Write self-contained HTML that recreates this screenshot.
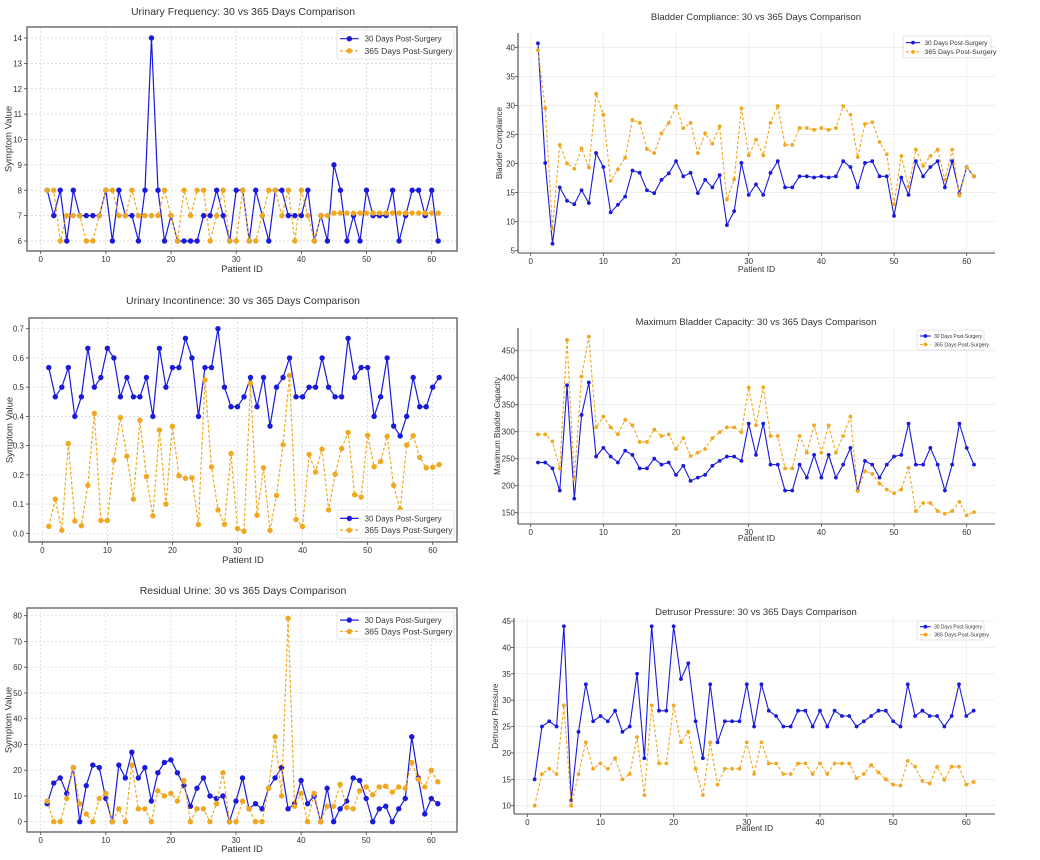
<!DOCTYPE html>
<html><head><meta charset="utf-8">
<style>
html,body{margin:0;padding:0;background:#fff;}
svg{display:block;font-family:"Liberation Sans","DejaVu Sans",sans-serif;}
</style></head>
<body>
<svg id="fig" width="1040" height="860" viewBox="0 0 1040 860" xmlns="http://www.w3.org/2000/svg"></svg>
<script>
const patientIds = Array.from({length:61},(_,i)=>i+1);
const xTicks = [0,10,20,30,40,50,60];

const freq30 = [8,7,8,6,8,7,7,7,7,8,6,8,7,7,6,8,14,8,6,7,6,6,6,6,7,7,8,7,6,8,8,6,8,7,6,8,8,7,7,7,8,6,7,6,9,8,6,7,6,8,7,7,7,8,6,7,8,8,7,8,6];
const freq365 = [8,8,6,7,7,7,6,6,7,8,8,7,7,8,7,7,7,7,8,7,6,8,7,8,8,6,7,8,6,6,8,6,6,7,8,8,7,8,6,8,7,6,7,7,7.1,7.1,7.1,7.1,7.1,7.1,7.1,7.1,7.1,7.1,7.1,7.1,7.1,7.1,7.1,7.1,7.1];
const freqTicks = [6,7,8,9,10,11,12,13,14];

const comp30 = [40.7,20.1,6.2,15.9,13.6,13.0,15.4,13.2,21.8,19.4,11.6,12.9,14.3,18.8,18.4,15.4,14.9,17.2,18.3,20.4,17.8,18.4,14.9,17.2,15.9,18.0,9.4,11.8,20.1,14.6,16.4,14.6,18.4,20.4,15.9,15.9,17.8,17.8,17.6,17.8,17.6,17.8,20.4,19.4,15.9,20.1,20.4,17.8,17.8,11.0,17.6,14.6,20.4,17.8,19.4,20.4,15.9,20.4,14.9,19.4,17.8];
const comp365 = [39.5,29.5,8.8,23.2,20.0,19.1,22.6,19.3,32.0,28.4,17.0,19.0,21.0,27.5,27.0,22.5,21.8,25.2,27.0,29.9,26.1,27.0,21.8,25.2,23.4,26.4,13.8,17.3,29.5,21.4,24.1,21.4,27.0,29.9,23.2,23.2,26.1,26.1,25.8,26.1,25.8,26.1,29.9,28.4,21.1,26.8,27.1,23.7,21.6,13.0,21.3,16.0,22.4,19.6,21.3,22.4,17.2,22.4,14.5,19.4,17.8];
const compTicks = [5,10,15,20,25,30,35,40];

const incont30 = [0.567,0.467,0.5,0.567,0.4,0.467,0.633,0.5,0.533,0.633,0.6,0.467,0.533,0.467,0.467,0.533,0.4,0.633,0.5,0.567,0.567,0.667,0.6,0.4,0.567,0.567,0.7,0.5,0.433,0.433,0.467,0.533,0.433,0.533,0.367,0.5,0.533,0.6,0.467,0.467,0.5,0.5,0.6,0.5,0.467,0.467,0.667,0.533,0.567,0.567,0.4,0.467,0.6,0.367,0.333,0.4,0.533,0.433,0.433,0.5,0.533];
const incont365 = [0.024,0.117,0.01,0.307,0.042,0.026,0.164,0.41,0.044,0.044,0.25,0.396,0.264,0.117,0.387,0.194,0.06,0.353,0.1,0.366,0.197,0.188,0.19,0.03,0.525,0.227,0.08,0.031,0.273,0.016,0.007,0.513,0.062,0.224,0.01,0.13,0.303,0.54,0.047,0.023,0.27,0.21,0.288,0.08,0.202,0.29,0.345,0.132,0.124,0.335,0.228,0.246,0.332,0.164,0.082,0.302,0.334,0.26,0.224,0.226,0.235];
const incontTicks = [0.0,0.1,0.2,0.3,0.4,0.5,0.6,0.7];

const cap30 = [243,243,232,191,386,176,331,391,254,270,254,243,265,257,232,232,250,239,243,220,237,209,215,220,237,246,254,254,246,315,257,315,239,239,191,191,239,215,257,215,257,215,239,270,191,246,239,215,239,254,257,315,239,239,270,239,191,239,315,270,239];
const cap365 = [295,295,282,232,470,212,402,476,308,328,308,295,322,312,281,281,304,292,295,268,288,255,261,268,288,299,308,308,299,382,312,382,292,292,232,232,292,261,312,261,312,261,292,328,190,227,222,204,193,186,193,233,153,168,168,153,148,153,170,145,151];
const capTicks = [150,200,250,300,350,400,450];

const resid30 = [7,15,17,11,21,0,14,22,21,9,0,22,17,27,17,21,8,19,23,24,19,14,6,13,17,10,9,10,0,8,17,5,7,5,13,17,21,5,7,16,7,10,0,13,0,5,8,17,16,9,0,5,6,0,5,9,33,17,3,9,7];
const resid365 = [8,0,0,9,21,7,3,0,9,11,0,5,0,22,5,5,0,12,10,11,8,16,0,5,5,0,7,19,0,0,8,5,0,0,13,33,10,79,6,11,0,11,0,6,6,14.5,5.5,5,12,13.5,10.5,13.5,13.8,11.5,13.5,13,23,16.5,13.5,20,15.5];
const residTicks = [0,10,20,30,40,50,60,70,80];

const press30 = [15,25,26,25,44,11,24,33,26,27,26,28,24,25,35,19,44,28,28,44,34,37,26,19,33,22,26,26,26,33,25,33,28,27,25,25,28,28,25,28,25,28,27,27,25,26,27,28,28,26,25,33,27,28,27,27,25,27,33,27,28];
const press365 = [10,16,17,16,29,10,16,22,17,18,17,19,15,16,23,12,29,18,18,29,22,24,17,12,22,14,17,17,17,22,16,22,18,18,16,16,18,18,16,18,16,18,18,18,15.2,16,17.7,16.3,15,14,13.8,18.5,17.4,14.7,14.2,17.4,14.9,17.4,17.4,14,14.5];
const pressTicks = [10,15,20,25,30,35,40,45];

const NS="http://www.w3.org/2000/svg";
const svg=document.getElementById('fig');
function mk(tag,attrs,parent){const e=document.createElementNS(NS,tag);for(const k in attrs)e.setAttribute(k,attrs[k]);(parent||svg).appendChild(e);return e;}

const panels=[
 {key:'urinary-frequency',title:'Urinary Frequency: 30 vs 365 Days Comparison',ylabel:'Symptom Value',s30:freq30,s365:freq365,yt:freqTicks,
  style:'box',x0:40.7,x60:431.7,yA:6,pA:241,yB:14,pB:38,L:27,R:457,T:27,B:251,titleY:15,titleX:243,xlabY:272,ylabX:9,
  legend:{x:337,y:30,w:117,h:29,fs:8.5,tw:[77,88]}},
 {key:'bladder-compliance',title:'Bladder Compliance: 30 vs 365 Days Comparison',ylabel:'Bladder Compliance',s30:comp30,s365:comp365,yt:compTicks,
  style:'spine',x0:530.7,x60:966.7,yA:5,pA:250.7,yB:40,pB:47.3,L:518,R:995,T:33,B:253,titleY:20,titleX:756,xlabY:272,ylabX:500,
  legend:{x:903,y:36,w:88,h:22,fs:6.5,tw:[63,72]}},
 {key:'urinary-incontinence',title:'Urinary Incontinence: 30 vs 365 Days Comparison',ylabel:'Symptom Value',s30:incont30,s365:incont365,yt:incontTicks,fmt:v=>v.toFixed(1),
  style:'box',x0:42.3,x60:432.7,yA:0,pA:533.3,yB:0.7,pB:328.7,L:29,R:457,T:318,B:542,titleY:304,titleX:243,xlabY:563,ylabX:10,
  legend:{x:337,y:510,w:117,h:28,fs:8.5,tw:[77,88]}},
 {key:'maximum-bladder-capacity',title:'Maximum Bladder Capacity: 30 vs 365 Days Comparison',ylabel:'Maximum Bladder Capacity',s30:cap30,s365:cap365,yt:capTicks,
  style:'spine',x0:530.7,x60:966.7,yA:150,pA:512.7,yB:450,pB:350.7,L:518,R:995,T:328,B:524,titleY:325,titleX:756,xlabY:541,ylabX:498,
  legend:{x:917,y:330,w:67,h:20,fs:5.5,tw:[48,55]}},
 {key:'residual-urine',title:'Residual Urine: 30 vs 365 Days Comparison',ylabel:'Symptom Value',s30:resid30,s365:resid365,yt:residTicks,
  style:'box',x0:40.7,x60:431.3,yA:0,pA:821.7,yB:80,pB:615.7,L:27,R:457,T:608,B:832,titleY:594,titleX:243,xlabY:852,ylabX:9,
  legend:{x:337,y:612,w:117,h:27,fs:8.5,tw:[77,88]}},
 {key:'detrusor-pressure',title:'Detrusor Pressure: 30 vs 365 Days Comparison',ylabel:'Detrusor Pressure',s30:press30,s365:press365,yt:pressTicks,
  style:'spine',x0:527.3,x60:966.3,yA:10,pA:805.7,yB:45,pB:621,L:514,R:995,T:618,B:814,titleY:615,titleX:756,xlabY:831,ylabX:496,
  legend:{x:917,y:621,w:67,h:19,fs:5.5,tw:[48,55]}}
];

panels.forEach(p=>{
  const g=mk('g',{});
  
  
  const X=v=>p.x0+(p.x60-p.x0)*v/60;
  const Y=v=>p.pA+(p.pB-p.pA)*(v-p.yA)/(p.yB-p.yA);
  const box=p.style==='box';
  const tfs=box?8:8;
  xTicks.forEach(t=>{const l=mk('line',{x1:X(t),x2:X(t),y1:p.T,y2:p.B,stroke:box?'#d4d4d4':'#ececec','stroke-width':box?0.7:0.8,'stroke-dasharray':box?'2,2':'none'},g);
    });
  p.yt.forEach(t=>{const l=mk('line',{x1:p.L,x2:p.R,y1:Y(t),y2:Y(t),stroke:box?'#d4d4d4':'#ececec','stroke-width':box?0.7:0.8,'stroke-dasharray':box?'2,2':'none'},g);
    });
  if(box){const r=mk('rect',{x:p.L,y:p.T,width:p.R-p.L,height:p.B-p.T,fill:'none',stroke:'#666','stroke-width':1.4},g);
    }
  else{const a=mk('line',{x1:p.L,x2:p.L,y1:p.T,y2:p.B,stroke:'#444','stroke-width':1.1},g);
    
    const b=mk('line',{x1:p.L,x2:p.R,y1:p.B,y2:p.B,stroke:'#444','stroke-width':1.1},g);
    }
  const tickOff=box?5:3;
  xTicks.forEach(t=>{mk('line',{x1:X(t),x2:X(t),y1:p.B,y2:p.B+3,stroke:'#444','stroke-width':0.8},g);
    const tx=mk('text',{x:X(t),y:p.B+11,'font-size':tfs,'text-anchor':'middle',fill:'#333'},g);tx.textContent=t;
    });
  p.yt.forEach(t=>{mk('line',{x1:p.L-3,x2:p.L,y1:Y(t),y2:Y(t),stroke:'#444','stroke-width':0.8},g);
    const tx=mk('text',{x:p.L-tickOff,y:Y(t)+3,'font-size':tfs,'text-anchor':'end',fill:'#333'},g);tx.textContent=p.fmt?p.fmt(t):t;
    });
  const tt=mk('text',{x:p.titleX,y:p.titleY,'font-size':box?10.5:9.5,'text-anchor':'middle',fill:'#333'},g);tt.textContent=p.title;
  
  const xl=mk('text',{x:(p.L+p.R)/2,y:p.xlabY,'font-size':box?9.5:8.5,'text-anchor':'middle',fill:'#333'},g);xl.textContent='Patient ID';
  
  const yc=(p.T+p.B)/2;
  const yl=mk('text',{x:p.ylabX,y:yc,'font-size':box?9.5:8,'text-anchor':'middle',fill:'#333',transform:`rotate(-90 ${p.ylabX} ${yc})`,'dominant-baseline':'middle'},g);yl.textContent=p.ylabel;
  
  const lw=box?1.2:1.1, mr=box?2.7:1.9;
  [[p.s30,'#1a1adc','none','30-days'],[p.s365,'#f0a820','3,2','365-days']].forEach(([data,col,dash,nm])=>{
    const pts=data.map((v,i)=>X(patientIds[i])+','+Y(v)).join(' ');
    const pl=mk('polyline',{points:pts,fill:'none',stroke:col,'stroke-width':lw,'stroke-dasharray':dash},g);
    
    data.forEach((v,i)=>{const c=mk('circle',{cx:X(patientIds[i]),cy:Y(v),r:mr,fill:col},g);
      });
  });
  const L=p.legend;
  const lg=mk('g',{},g);
  
  mk('rect',{x:L.x,y:L.y,width:L.w,height:L.h,fill:'#fff','fill-opacity':0.85,stroke:'#ddd','stroke-width':0.8,rx:2},lg);
  [['30 Days Post-Surgery','#1a1adc','none'],['365 Days Post-Surgery','#f0a820','3,2']].forEach((e,k)=>{
    const cy=L.y+L.h*(k===0?0.3:0.72);
    const lx=L.x+3, ll=L.w*0.16;
    mk('line',{x1:lx,x2:lx+ll,y1:cy,y2:cy,stroke:e[1],'stroke-width':lw,'stroke-dasharray':e[2]},lg);
    mk('circle',{cx:lx+ll/2,cy:cy,r:mr,fill:e[1]},lg);
    const t=mk('text',{x:lx+ll+L.w*0.05,y:cy+L.fs*0.35,'font-size':L.fs,fill:'#333',textLength:L.tw[k],lengthAdjust:'spacingAndGlyphs'},lg);t.textContent=e[0];
    
  });
});
</script>
</body></html>
